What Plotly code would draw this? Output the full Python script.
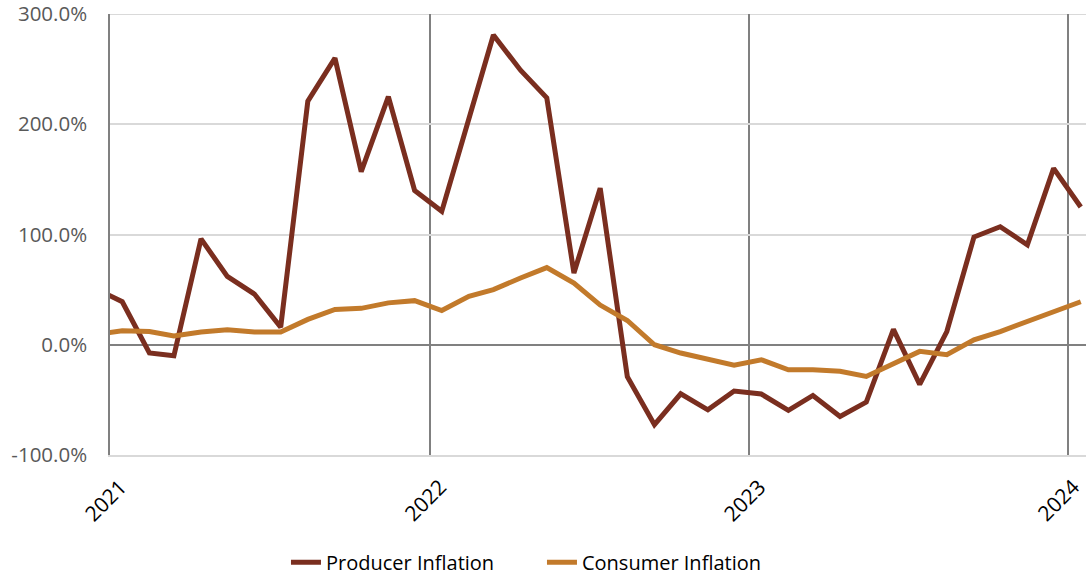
import plotly.graph_objects as go

# Monthly observations, plotted at mid-month (Dec 2020 - Jan 2024)
months = [
    "2020-12-15",
    "2021-01-15", "2021-02-15", "2021-03-15", "2021-04-15", "2021-05-15", "2021-06-15",
    "2021-07-15", "2021-08-15", "2021-09-15", "2021-10-15", "2021-11-15", "2021-12-15",
    "2022-01-15", "2022-02-15", "2022-03-15", "2022-04-15", "2022-05-15", "2022-06-15",
    "2022-07-15", "2022-08-15", "2022-09-15", "2022-10-15", "2022-11-15", "2022-12-15",
    "2023-01-15", "2023-02-15", "2023-03-15", "2023-04-15", "2023-05-15", "2023-06-15",
    "2023-07-15", "2023-08-15", "2023-09-15", "2023-10-15", "2023-11-15", "2023-12-15",
    "2024-01-15",
]

# Year-over-year change, in percent
producer_inflation = [
    51,
    39, -7.5, -10, 96, 62, 46, 16, 221, 260, 157, 225, 140,
    121, 205, 281, 249, 224, 65, 142, -29, -72.5, -44.5, -59, -42,
    -44.7, -59.5, -46, -65, -52, 14, -36, 12, 97.7, 107, 90.7, 160,
    125,
]
consumer_inflation = [
    9.3,
    12.7, 12, 8, 11.5, 13.6, 11.5, 11.5, 23, 32, 33, 38, 40,
    31, 44, 50, 60.5, 70, 56, 36, 22, 0, -7.5, -13.6, -18.5,
    -13.6, -22.7, -22.7, -24, -28.7, -16.6, -6, -9, 4.5, 12, 21, 29,
    39,
]

year_ticks = ["2021-01-01", "2022-01-01", "2023-01-01", "2024-01-01"]
year_labels = ["2021", "2022", "2023", "2024"]
year_label_shift = [25, 25, 25, 19]
y_ticks = [-100, 0, 100, 200, 300]
y_labels = ["-100.0%", "0.0%", "100.0%", "200.0%", "300.0%"]

PRODUCER_COLOR = "#7A2E1F"
CONSUMER_COLOR = "#C27A2B"
FONT = "Open Sans"

fig = go.Figure()
fig.add_trace(go.Scatter(
    x=months, y=producer_inflation, mode="lines", name="Producer Inflation",
    line=dict(color=PRODUCER_COLOR, width=5),
))
fig.add_trace(go.Scatter(
    x=months, y=consumer_inflation, mode="lines", name="Consumer Inflation",
    line=dict(color=CONSUMER_COLOR, width=5),
))

# Year labels, slanted and hanging just right of each year gridline
for tick, label, shift in zip(year_ticks, year_labels, year_label_shift):
    fig.add_annotation(
        x=tick, y=0, xref="x", yref="paper",
        text=label, showarrow=False, textangle=-45,
        xanchor="right", yanchor="top", xshift=shift, yshift=-15,
        font=dict(family=FONT, size=21, color="black"),
    )

# Top gridline along the upper edge of the plotting area
fig.add_shape(
    type="line", xref="paper", yref="y", x0=0, x1=1, y0=y_ticks[-1], y1=y_ticks[-1],
    line=dict(color="#D9D9D9", width=2), layer="below",
)

fig.update_layout(
    width=1086, height=577,
    margin=dict(l=110, r=0, t=14, b=122, autoexpand=False),
    paper_bgcolor="white", plot_bgcolor="white",
    font=dict(family=FONT, size=20.5, color="#595959"),
    showlegend=True,
    legend=dict(
        orientation="h", x=0.1803, xanchor="left", y=-0.243, yanchor="middle",
        font=dict(family=FONT, size=20, color="black"),
        entrywidth=211, entrywidthmode="pixels", tracegroupgap=0,
    ),
    xaxis=dict(
        type="date",
        range=["2021-01-01", "2024-01-21"],
        tickmode="array", tickvals=year_ticks, showticklabels=False,
        showgrid=True, gridcolor="#808080", gridwidth=1.5,
        showline=True, linecolor="#D9D9D9", linewidth=2,
        ticks="", zeroline=False,
    ),
    yaxis=dict(
        range=[-100, 300.01],
        tickmode="array", tickvals=y_ticks, ticktext=y_labels,
        showgrid=True, gridcolor="#D9D9D9", gridwidth=2,
        zeroline=True, zerolinecolor="#808080", zerolinewidth=1.5,
        showline=True, linecolor="#808080", linewidth=1.5,
        ticks="", ticklabelstandoff=17, ticklabeloverflow="allow",
    ),
)

fig.write_html("out.html")
